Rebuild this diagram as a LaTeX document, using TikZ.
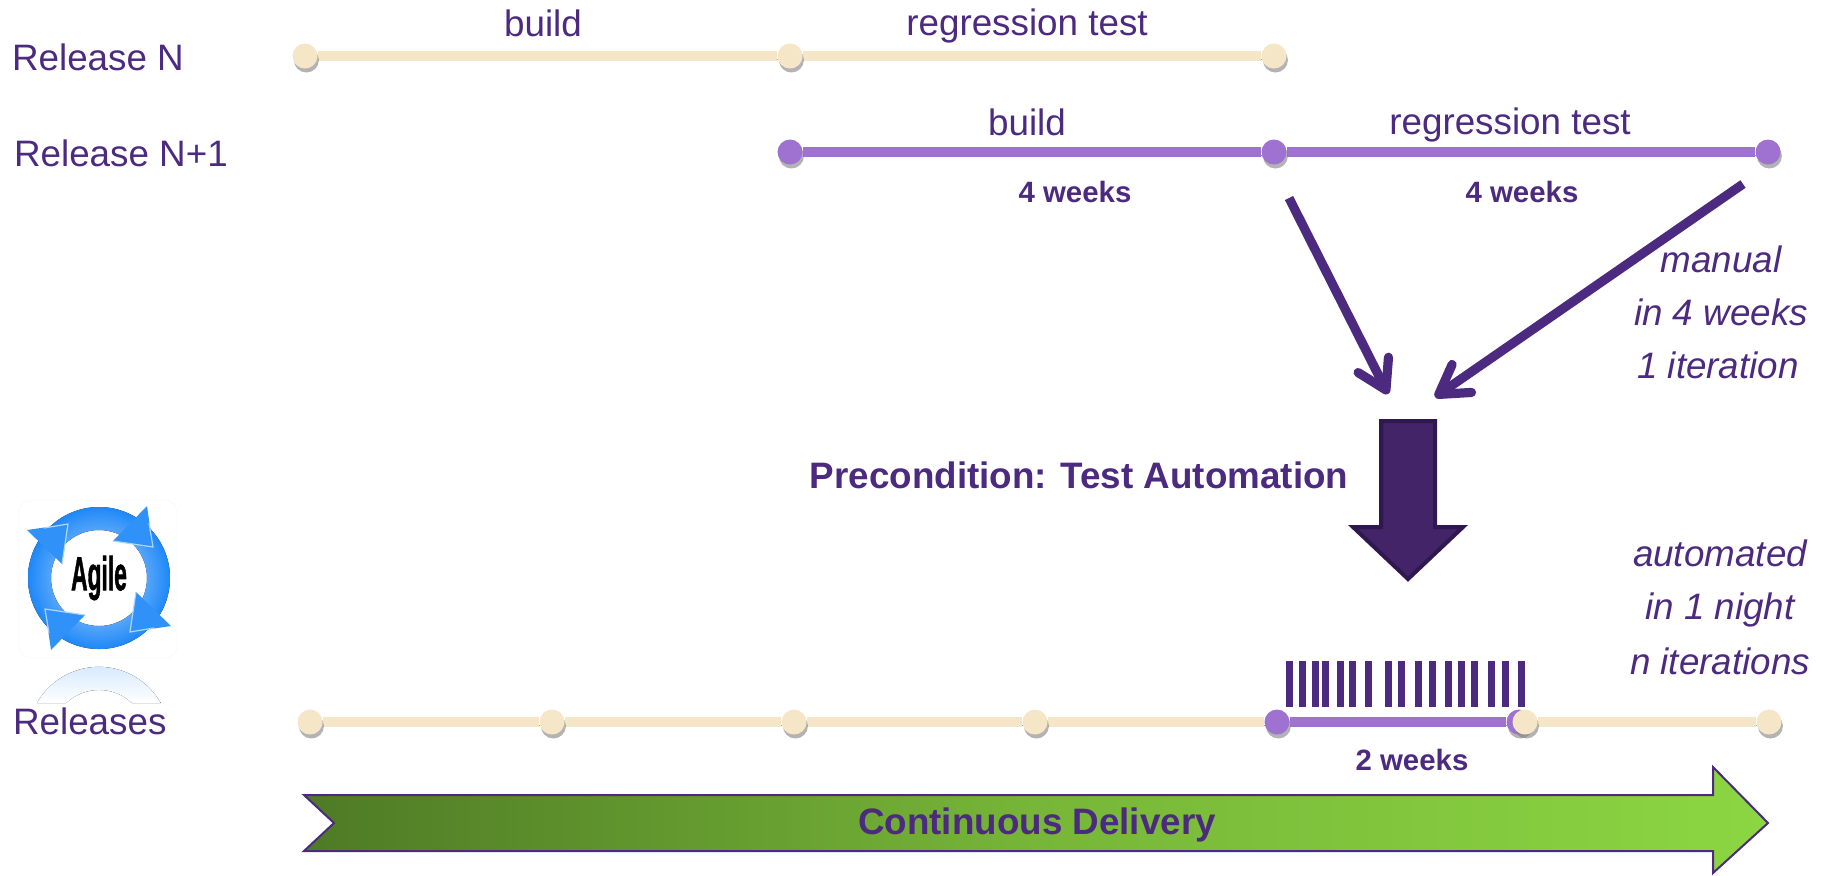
\documentclass[tikz,border=0pt]{standalone}
\usepackage{fontspec}
\setmainfont{Liberation Sans}
\newfontfamily\agilefont[BoldFeatures={FakeBold=1.6}]{Liberation Sans}
\usetikzlibrary{arrows.meta,shadows,backgrounds}
\definecolor{creamc}{HTML}{F6E6C8}
\definecolor{lilacc}{HTML}{9F72D2}
\definecolor{inkc}{HTML}{4B2A80}
\definecolor{darkc}{HTML}{432468}
\definecolor{edgec}{HTML}{2F1850}
\definecolor{logoc}{HTML}{1E88F8}
\definecolor{greenl}{HTML}{4E7A25}
\definecolor{greenm}{HTML}{77B638}
\definecolor{greenr}{HTML}{8CD642}
\tikzset{
	dotstyle/.style={circle,inner sep=0pt,minimum size=12.5pt,drop shadow={opacity=.6,shadow xshift=.7pt,shadow yshift=-2pt}},
	creamdot/.style={dotstyle,fill=creamc},
	lilacdot/.style={dotstyle,fill=lilacc},
	linestyle/.style={line width=4.6pt,preaction={draw=black!70,opacity=.55,transform canvas={xshift=.5pt,yshift=-1.8pt}}},
	creamline/.style={linestyle,draw=creamc},
	lilacline/.style={linestyle,draw=lilacc},
	bigtext/.style={text=inkc,font=\fontsize{18.4}{22}\selectfont},
	boldtext/.style={bigtext,font=\fontsize{18.4}{22}\selectfont\bfseries},
	smalltext/.style={text=inkc,font=\fontsize{14.7}{18}\selectfont\bfseries},
	sidetext/.style={bigtext,font=\fontsize{18.4}{22}\selectfont\itshape},
	pointer/.style={draw=inkc,line width=4.6pt,-{Straight Barb[round,length=14pt,width=17pt]},preaction={draw=black,opacity=.25,transform canvas={xshift=.5pt,yshift=-1.5pt}}}
}
\begin{document}
\begin{tikzpicture}[x=0.5pt,y=-0.5pt]
	\useasboundingbox (0,0) rectangle (1826,875);
	% release n
	\node[bigtext,anchor=west] (relN) at (5,57) {Release N};
	\node[creamdot] (n1) at (305,56) {};
	\node[creamdot] (n2) at (790,56) {};
	\node[creamdot] (n3) at (1274,56) {};
	\node[bigtext] (buildN) at (543,23) {build};
	\node[bigtext] (testN) at (1027,26) {regression test};
	% release n+1
	\node[bigtext,anchor=west] (relM) at (7,153) {Release N+1};
	\node[lilacdot] (m1) at (790,152) {};
	\node[lilacdot] (m2) at (1274,152) {};
	\node[lilacdot] (m3) at (1768,152) {};
	\node[bigtext] (buildM) at (1027,122) {build};
	\node[bigtext] (testM) at (1510,125) {regression test};
	\node[smalltext] (weeksA) at (1075,192) {4 weeks};
	\node[smalltext] (weeksB) at (1522,192) {4 weeks};
	% releases
	\node[bigtext,anchor=west] (rels) at (6,721) {Releases};
	\node[creamdot] (r1) at (310,722) {};
	\node[creamdot] (r2) at (552,722) {};
	\node[creamdot] (r3) at (794,722) {};
	\node[creamdot] (r4) at (1035,722) {};
	\node[lilacdot] (r5) at (1277,722) {};
	\node[lilacdot] (r6) at (1519,722) {};
	\node[creamdot] (r7) at (1525,722) {};
	\node[creamdot] (r8) at (1769,722) {};
	\node[smalltext] (weeksC) at (1412,760) {2 weeks};
	\begin{scope}[on background layer]
		\draw[creamline] (n1) -- (n2);
		\draw[creamline] (n2) -- (n3);
		\draw[lilacline] (m1) -- (m2);
		\draw[lilacline] (m2) -- (m3);
		\draw[creamline] (r1) -- (r2);
		\draw[creamline] (r2) -- (r3);
		\draw[creamline] (r3) -- (r4);
		\draw[creamline] (r4) -- (r5);
		\draw[lilacline] (r5) -- (r6);
		\draw[creamline] (r7) -- (r8);
	\end{scope}
	% ticks
	\foreach \tickx in {1289,1302,1315,1325,1340,1352,1368,1388,1401,1418,1432,1448,1461,1474,1491,1505,1521}
		\fill[inkc] (\tickx-3.5,661) rectangle (\tickx+3.5,707);
	% arrows
	\coordinate (fromA) at (1289,198);
	\coordinate (toA) at (1388,394);
	\coordinate (fromB) at (1743,184);
	\coordinate (toB) at (1435,397);
	\draw[pointer] (fromA) -- (toA);
	\draw[pointer] (fromB) -- (toB);
	\draw[fill=darkc,draw=edgec,line width=2pt] (1381,421) -- (1435,421) -- (1435,527) -- (1463,527) -- (1408,579) -- (1353,527) -- (1381,527) -- cycle;
	\node[boldtext] (precond) at (1079,475) {Precondition: Test Automation};
	% side texts
	\node[sidetext] (manual) at (1721,259) {manual};
	\node[sidetext] (inweeks) at (1721,312) {in 4 weeks};
	\node[sidetext] (oneiter) at (1718,365) {1 iteration};
	\node[sidetext] (auto) at (1720,553) {automated};
	\node[sidetext] (innight) at (1720,610) {in 1 night};
	\node[sidetext] (niter) at (1720,661) {n iterations};
	% delivery
	\draw[draw=inkc,line width=1pt,left color=greenl,right color=greenr,middle color=greenm]
		(304,795) -- (1713,795) -- (1713,767) -- (1768,823) -- (1713,873) -- (1713,851) -- (304,851) -- (334,823) -- cycle;
	\node[boldtext] (cd) at (1037,825) {Continuous Delivery};
	% logo
	\draw[draw=black!2,fill=white,rounded corners=6pt] (19,500) rectangle (177,658);
	\coordinate (logo) at (99,578);
	\fill[even odd rule,inner color=logoc!25!white,outer color=logoc] (logo) circle[radius=35.5pt] (logo) circle[radius=24pt];
	\foreach \turn in {0,90,180,270} {
		\begin{scope}[shift={(logo)},rotate=\turn]
			\fill[logoc!92!white] (54,-31) -- (48,-72) -- (14,-37) -- cycle;
			\draw[logoc!35!white,line width=.6pt] (50,-55) -- (54,-31) -- (14,-37);
		\end{scope}
	}
	\node[text=black,font=\agilefont\fontsize{19}{19}\selectfont\bfseries,xscale=.6,yscale=1.25] (agile) at (99,578) {Agile};
	\fill[top color=logoc!22!white,bottom color=white] (37,703) arc[start angle=150.6,end angle=29.4,radius=35.5pt] -- (132,703) arc[start angle=46.7,end angle=133.3,radius=24pt] -- cycle;
\end{tikzpicture}
\end{document}
